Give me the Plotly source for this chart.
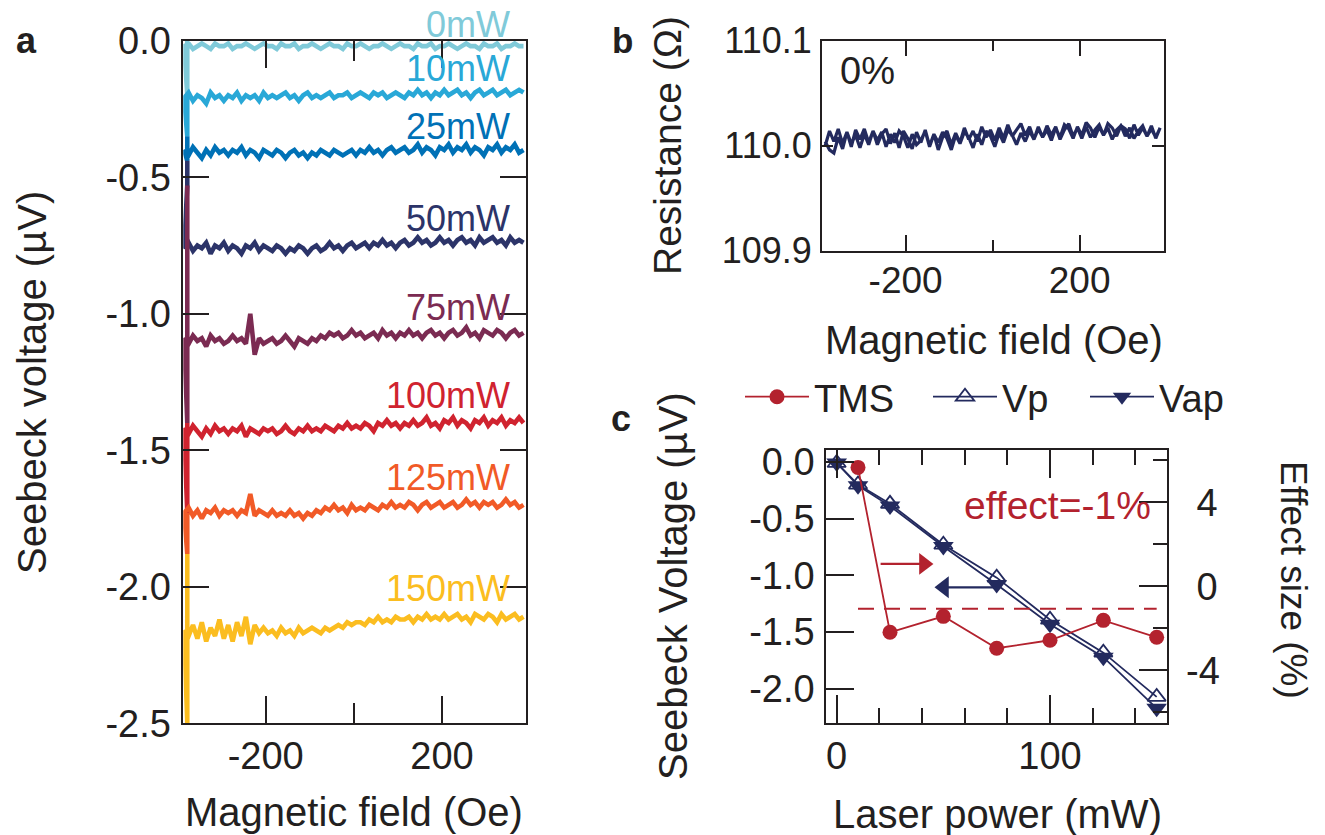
import plotly.graph_objects as go

W, H = 1325, 835

# ---------------- data: panel a ----------------
FIELD = [-385, -375, -365, -355, -345, -335, -325, -315, -305, -295,
         -285, -275, -265, -255, -245, -235, -225, -215, -205, -195,
         -185, -175, -165, -155, -145, -135, -125, -115, -105, -95,
         -85, -75, -65, -55, -45, -35, -25, -15, -5, 5,
         15, 25, 35, 45, 55, 65, 75, 85, 95, 105,
         115, 125, 135, 145, 155, 165, 175, 185, 195, 205,
         215, 225, 235, 245, 255, 265, 275, 285, 295, 305,
         315, 325, 335, 345, 355, 365, 375, 385]

POWER_LABELS = ["0mW", "10mW", "25mW", "50mW", "75mW", "100mW", "125mW", "150mW"]
POWER_COLORS = ["#80cad9", "#29a8d7", "#0071b6", "#2c3469", "#7b2b52", "#d0232f", "#f15a27", "#fbbd20"]

V_0MW = [-0.02, -0.01, -0.03, -0.02, -0.01, -0.02, -0.03, -0.01, -0.02, -0.02,
         -0.01, -0.03, -0.02, -0.02, -0.01, -0.02, -0.03, -0.02, -0.01, -0.02,
         -0.02, -0.03, -0.01, -0.02, -0.02, -0.01, -0.03, -0.02, -0.02, -0.01,
         -0.02, -0.03, -0.02, -0.01, -0.02, -0.02, -0.03, -0.01, -0.02, -0.02,
         -0.01, -0.02, -0.03, -0.02, -0.02, -0.01, -0.02, -0.03, -0.02, -0.01,
         -0.02, -0.02, -0.03, -0.01, -0.02, -0.02, -0.01, -0.03, -0.02, -0.02,
         -0.01, -0.02, -0.03, -0.02, -0.01, -0.02, -0.02, -0.03, -0.01, -0.02,
         -0.02, -0.01, -0.03, -0.02, -0.02, -0.01, -0.02, -0.02]
V_10MW = [-0.21, -0.19, -0.22, -0.20, -0.21, -0.23, -0.19, -0.21, -0.20, -0.22,
          -0.20, -0.21, -0.19, -0.22, -0.20, -0.21, -0.20, -0.22, -0.19, -0.21,
          -0.20, -0.21, -0.20, -0.19, -0.21, -0.20, -0.22, -0.20, -0.19, -0.21,
          -0.20, -0.21, -0.20, -0.19, -0.21, -0.20, -0.20, -0.19, -0.21, -0.20,
          -0.19, -0.20, -0.21, -0.19, -0.20, -0.19, -0.21, -0.20, -0.19, -0.20,
          -0.21, -0.19, -0.20, -0.18, -0.20, -0.19, -0.21, -0.19, -0.20, -0.18,
          -0.20, -0.19, -0.18, -0.20, -0.19, -0.21, -0.19, -0.18, -0.20, -0.19,
          -0.18, -0.20, -0.19, -0.18, -0.20, -0.19, -0.18, -0.19]
V_25MW = [-0.40, -0.42, -0.39, -0.41, -0.43, -0.40, -0.42, -0.39, -0.41, -0.40,
          -0.42, -0.40, -0.41, -0.39, -0.42, -0.40, -0.41, -0.43, -0.40, -0.41,
          -0.42, -0.40, -0.41, -0.43, -0.41, -0.40, -0.42, -0.41, -0.43, -0.41,
          -0.42, -0.40, -0.41, -0.42, -0.40, -0.41, -0.42, -0.41, -0.40, -0.42,
          -0.40, -0.41, -0.39, -0.41, -0.40, -0.42, -0.40, -0.39, -0.41, -0.40,
          -0.39, -0.41, -0.40, -0.38, -0.41, -0.39, -0.40, -0.42, -0.39, -0.40,
          -0.38, -0.41, -0.39, -0.40, -0.38, -0.41, -0.39, -0.40, -0.42, -0.39,
          -0.40, -0.38, -0.41, -0.39, -0.40, -0.38, -0.41, -0.40]
V_50MW = [-0.76, -0.74, -0.77, -0.75, -0.76, -0.74, -0.78, -0.75, -0.76, -0.74,
          -0.77, -0.75, -0.76, -0.78, -0.75, -0.76, -0.74, -0.77, -0.75, -0.76,
          -0.77, -0.75, -0.76, -0.78, -0.76, -0.77, -0.75, -0.76, -0.78, -0.76,
          -0.75, -0.77, -0.76, -0.74, -0.76, -0.75, -0.77, -0.75, -0.74, -0.76,
          -0.75, -0.74, -0.76, -0.74, -0.75, -0.73, -0.75, -0.74, -0.76, -0.74,
          -0.73, -0.75, -0.74, -0.72, -0.74, -0.73, -0.75, -0.74, -0.72, -0.74,
          -0.73, -0.75, -0.73, -0.72, -0.74, -0.73, -0.75, -0.72, -0.74, -0.73,
          -0.72, -0.74, -0.73, -0.75, -0.72, -0.74, -0.73, -0.74]
V_75MW = [-1.09, -1.11, -1.08, -1.10, -1.09, -1.12, -1.08, -1.10, -1.09, -1.11,
          -1.10, -1.08, -1.10, -1.09, -1.11, -1.00, -1.15, -1.09, -1.11, -1.10,
          -1.09, -1.11, -1.10, -1.08, -1.10, -1.12, -1.09, -1.10, -1.11, -1.09,
          -1.10, -1.08, -1.09, -1.07, -1.08, -1.07, -1.09, -1.08, -1.06, -1.08,
          -1.07, -1.09, -1.08, -1.07, -1.09, -1.06, -1.08, -1.07, -1.09, -1.07,
          -1.08, -1.06, -1.08, -1.07, -1.09, -1.07, -1.06, -1.08, -1.07, -1.09,
          -1.07, -1.06, -1.08, -1.07, -1.05, -1.08, -1.07, -1.09, -1.06, -1.07,
          -1.08, -1.06, -1.07, -1.09, -1.07, -1.06, -1.08, -1.07]
V_100MW = [-1.42, -1.44, -1.41, -1.43, -1.45, -1.42, -1.44, -1.41, -1.43, -1.42,
           -1.44, -1.42, -1.43, -1.41, -1.45, -1.42, -1.43, -1.44, -1.42, -1.43,
           -1.42, -1.44, -1.43, -1.41, -1.43, -1.44, -1.42, -1.43, -1.41, -1.43,
           -1.42, -1.43, -1.41, -1.42, -1.43, -1.41, -1.42, -1.40, -1.42, -1.41,
           -1.42, -1.40, -1.41, -1.43, -1.40, -1.41, -1.39, -1.41, -1.40, -1.42,
           -1.40, -1.41, -1.39, -1.41, -1.40, -1.38, -1.41, -1.40, -1.42, -1.39,
           -1.40, -1.38, -1.41, -1.39, -1.40, -1.42, -1.39, -1.40, -1.38, -1.41,
           -1.39, -1.40, -1.38, -1.41, -1.39, -1.40, -1.38, -1.40]
V_125MW = [-1.73, -1.71, -1.74, -1.72, -1.75, -1.72, -1.73, -1.71, -1.74, -1.72,
           -1.73, -1.72, -1.74, -1.72, -1.73, -1.66, -1.74, -1.72, -1.73, -1.74,
           -1.72, -1.74, -1.73, -1.74, -1.72, -1.74, -1.73, -1.75, -1.73, -1.74,
           -1.72, -1.73, -1.71, -1.72, -1.70, -1.72, -1.71, -1.73, -1.70, -1.72,
           -1.71, -1.72, -1.70, -1.71, -1.72, -1.70, -1.71, -1.69, -1.71, -1.70,
           -1.71, -1.69, -1.70, -1.72, -1.70, -1.69, -1.71, -1.70, -1.69, -1.71,
           -1.70, -1.69, -1.71, -1.70, -1.68, -1.70, -1.69, -1.71, -1.69, -1.70,
           -1.69, -1.71, -1.70, -1.68, -1.70, -1.69, -1.71, -1.70]
V_150MW = [-2.16, -2.18, -2.14, -2.19, -2.13, -2.20, -2.15, -2.18, -2.12, -2.19,
           -2.14, -2.20, -2.13, -2.18, -2.11, -2.21, -2.14, -2.17, -2.15, -2.17,
           -2.16, -2.18, -2.15, -2.17, -2.16, -2.18, -2.15, -2.17, -2.16, -2.15,
           -2.16, -2.17, -2.15, -2.16, -2.15, -2.14, -2.15, -2.13, -2.14, -2.13,
           -2.13, -2.14, -2.12, -2.13, -2.11, -2.13, -2.12, -2.13, -2.11, -2.12,
           -2.12, -2.11, -2.13, -2.11, -2.12, -2.10, -2.12, -2.11, -2.12, -2.10,
           -2.12, -2.11, -2.10, -2.12, -2.11, -2.13, -2.10, -2.11, -2.12, -2.10,
           -2.11, -2.13, -2.10, -2.12, -2.11, -2.10, -2.12, -2.11]
SEEBECK_CURVES = [V_0MW, V_10MW, V_25MW, V_50MW, V_75MW, V_100MW, V_125MW, V_150MW]

# initial jump of each sweep near the left edge of the field range
EDGE_FIELD = -378
EDGE_TOP = [0.0, -0.20, -0.35, -0.44, -0.53, -1.40, -1.73, -1.88]
EDGE_BOTTOM = [-0.20, -0.35, -0.44, -0.53, -1.40, -1.73, -1.88, -2.50]

LABEL_FIELD = 358
LABEL_Y = [0.06, -0.10, -0.315, -0.65, -0.977, -1.30, -1.598, -2.005]

A_XRANGE = [-387, 390]
A_YRANGE = [-2.5, 0.0]
A_YTICKS = [0.0, -0.5, -1.0, -1.5, -2.0, -2.5]
A_YTICKTEXT = ["0.0", "-0.5", "-1.0", "-1.5", "-2.0", "-2.5"]
FIELD_TICKS = [-200, 200]
FIELD_TICKTEXT = ["-200", "200"]
FIELD_MINOR = [0]

# ---------------- data: panel b ----------------
B_XRANGE = [-393, 394]
R_FORWARD = [110.000, 110.014, 110.004, 110.016, 110.002, 110.013, 109.999, 110.015, 110.006, 110.016,
             110.003, 110.014, 110.001, 110.011, 110.016, 110.002, 110.012, 109.998, 110.014, 110.007,
             109.997, 110.013, 110.003, 110.015, 110.000, 110.011, 109.996, 110.008, 110.014, 110.001,
             110.012, 110.003, 110.017, 110.006, 110.014, 110.004, 110.018, 110.008, 110.015, 110.005,
             110.017, 110.007, 110.020, 110.009, 110.015, 110.021, 110.010, 110.018, 110.006, 110.016,
             110.008, 110.019, 110.010, 110.018, 110.006, 110.015, 110.021, 110.009, 110.017, 110.007,
             110.018, 110.008, 110.015, 110.020, 110.010, 110.017, 110.006, 110.015, 110.019, 110.009,
             110.017, 110.007, 110.014, 110.019, 110.009, 110.016, 110.008, 110.017]
R_BACKWARD = [110.016, 110.007, 110.019, 110.009, 110.017, 110.010, 110.020, 110.007, 110.016, 110.019,
              110.009, 110.017, 110.021, 110.010, 110.018, 110.008, 110.017, 110.022, 110.010, 110.018,
              110.007, 110.016, 110.020, 110.008, 110.017, 110.005, 110.015, 110.008, 110.018, 110.006,
              110.014, 110.004, 110.012, 110.001, 110.010, 110.015, 110.003, 110.012, 109.999, 110.009,
              110.014, 110.001, 110.011, 109.998, 110.008, 110.013, 110.002, 110.010, 109.996, 110.007,
              110.013, 110.003, 110.011, 109.999, 110.014, 110.005, 110.001, 110.011, 109.998, 110.009,
              110.014, 110.003, 110.011, 109.999, 110.013, 110.005, 110.014, 110.001, 110.011, 109.998,
              110.010, 110.002, 110.013, 109.997, 110.008, 109.993, 109.996, 110.004]
B_YTICKS = [109.9, 110.0, 110.1]
B_YTICKTEXT = ["109.9", "110.0", "110.1"]

# ---------------- data: panel c ----------------
LASER_POWER = [0, 10, 25, 50, 75, 100, 125, 150]
VP = [-0.01, -0.20, -0.37, -0.73, -1.02, -1.39, -1.68, -2.07]
VAP = [-0.01, -0.21, -0.39, -0.745, -1.08, -1.43, -1.72, -2.17]
TMS_POWER = [10, 25, 50, 75, 100, 125, 150]
TMS = [5.67, -2.19, -1.43, -2.95, -2.57, -1.62, -2.43]
EFFECT_POWER = [10, 150]
EFFECT_LEVEL = [-1.07, -1.07]
C_YTICKS = [0.0, -0.5, -1.0, -1.5, -2.0]
C_YTICKTEXT = ["0.0", "-0.5", "-1.0", "-1.5", "-2.0"]
C_Y2TICKS = [4, 0, -4]
C_Y2TICKTEXT = ["\u00a04", "\u00a00", "-4"]
C_Y2MINOR = [6, 2, -2, -6]
C_XTICKS = [0, 100]
C_XTICKTEXT = ["0", "100"]
C_XMINOR = [20, 40, 60, 80, 120, 140]

# axis-pointer arrows in panel c (tail power, head power; value on the axis they point to)
TMS_ARROW_X = [20.6, 40.9]
TMS_ARROW_Y = [1.07, 1.07]
V_ARROW_X = [75, 50.3]
V_ARROW_Y = [-1.105, -1.105]

# ---------------- styles ----------------
INK = "#231f20"
NAVY = "#232a5e"
RED = "#b3222e"
FONT = "Liberation Sans, Arial, Helvetica, sans-serif"


def px(x):
    return x / W


def py(y):
    return 1 - y / H


fig = go.Figure()

# panel a traces
for i, vals in enumerate(SEEBECK_CURVES):
    fig.add_trace(go.Scatter(
        x=[EDGE_FIELD, EDGE_FIELD] + FIELD,
        y=[EDGE_TOP[i], EDGE_BOTTOM[i]] + vals,
        mode="lines", line=dict(color=POWER_COLORS[i], width=4.6),
        xaxis="x", yaxis="y", showlegend=False, hoverinfo="skip"))

# panel b trace
fig.add_trace(go.Scatter(
    x=FIELD + FIELD[::-1], y=R_FORWARD + R_BACKWARD,
    mode="lines", line=dict(color=NAVY, width=3.2),
    xaxis="x2", yaxis="y2", showlegend=False, hoverinfo="skip"))

# panel c traces
fig.add_trace(go.Scatter(
    x=EFFECT_POWER, y=EFFECT_LEVEL, mode="lines",
    line=dict(color=RED, width=2, dash="16px,10px"),
    xaxis="x3", yaxis="y4", showlegend=False, hoverinfo="skip"))
fig.add_trace(go.Scatter(
    x=TMS_POWER, y=TMS, name="TMS", mode="lines+markers",
    line=dict(color=RED, width=1.8),
    marker=dict(symbol="circle", size=15, color=RED),
    xaxis="x3", yaxis="y4", legendwidth=109))
fig.add_trace(go.Scatter(
    x=TMS_ARROW_X, y=TMS_ARROW_Y, mode="lines",
    line=dict(color=RED, width=2.2),
    xaxis="x3", yaxis="y4", showlegend=False, hoverinfo="skip"))
fig.add_trace(go.Scatter(
    x=TMS_ARROW_X[1:], y=TMS_ARROW_Y[1:], mode="markers",
    marker=dict(symbol="triangle-right", size=19, color=RED),
    xaxis="x3", yaxis="y4", showlegend=False, hoverinfo="skip"))
fig.add_trace(go.Scatter(
    x=LASER_POWER, y=VP, name="Vp", mode="lines+markers",
    line=dict(color=NAVY, width=1.8),
    marker=dict(symbol="triangle-up-open", size=16, color=NAVY, line=dict(width=1.8)),
    xaxis="x3", yaxis="y3", legendwidth=78))
fig.add_trace(go.Scatter(
    x=LASER_POWER, y=VAP, name="Vap", mode="lines+markers",
    line=dict(color=NAVY, width=1.8),
    marker=dict(symbol="triangle-down", size=18, color=NAVY),
    xaxis="x3", yaxis="y3", legendwidth=70))
fig.add_trace(go.Scatter(
    x=V_ARROW_X, y=V_ARROW_Y, mode="lines",
    line=dict(color=NAVY, width=2.2),
    xaxis="x3", yaxis="y3", showlegend=False, hoverinfo="skip"))
fig.add_trace(go.Scatter(
    x=V_ARROW_X[1:], y=V_ARROW_Y[1:], mode="markers",
    marker=dict(symbol="triangle-left", size=19, color=NAVY),
    xaxis="x3", yaxis="y3", showlegend=False, hoverinfo="skip"))

axis_common = dict(showline=True, linecolor=INK, linewidth=1.5, ticks="inside",
                   tickcolor=INK, tickwidth=1.5, showgrid=False, zeroline=False,
                   tickmode="array", automargin=False)

annotations = []


def ann(text, x, y, size, color=INK, angle=0, **kw):
    d = dict(text=text, x=x, y=y, xref="paper", yref="paper", showarrow=False,
             font=dict(family=FONT, size=size, color=color), textangle=angle,
             xanchor="center", yanchor="middle")
    d.update(kw)
    annotations.append(d)


# panel letters
ann("<b>a</b>", px(26), py(40), 36)
ann("<b>b</b>", px(622), py(40), 35)
ann("<b>c</b>", px(621), py(418), 36)

# axis titles and texts
ann("Seebeck voltage (µV)", px(32), py(383), 40, angle=-90)
ann("Magnetic field (Oe)", px(354), py(812), 40)
ann("Resistance (Ω)", px(668), py(146), 39, angle=-90)
ann("Magnetic field (Oe)", px(994), py(340), 40)
ann("0%", px(867), py(71), 38)
ann("Seebeck Voltage (µV)", px(673), py(586), 40, angle=-90)
ann("Effect size (%)", px(1294), py(580), 37, angle=90)
ann("Laser power (mW)", px(997), py(814), 40)
ann("effect=-1%", px(1057), py(505), 39, color=RED)

# power labels in panel a (relative to the y axis domain so the top one can sit above the frame)
for i, lab in enumerate(POWER_LABELS):
    frac = (LABEL_Y[i] - A_YRANGE[0]) / (A_YRANGE[1] - A_YRANGE[0])
    annotations.append(dict(text=lab, x=LABEL_FIELD, y=frac, xref="x", yref="y domain",
                            showarrow=False, xanchor="right", yanchor="middle",
                            font=dict(family=FONT, size=36, color=POWER_COLORS[i])))

fig.update_layout(
    width=W, height=H, margin=dict(l=0, r=0, t=0, b=0, autoexpand=False),
    paper_bgcolor="white", plot_bgcolor="rgba(0,0,0,0)",
    font=dict(family=FONT, color=INK),
    annotations=annotations,
    showlegend=True,
    legend=dict(orientation="h", x=px(740), y=py(397), xanchor="left", yanchor="middle",
                font=dict(family=FONT, size=38, color=INK),
                bgcolor="rgba(0,0,0,0)", itemclick=False, tracegroupgap=0, itemwidth=64),
    # panel a
    xaxis=dict(axis_common, domain=[px(183.3), px(525.7)], range=A_XRANGE, anchor="y",
               mirror="ticks", tickvals=FIELD_TICKS, ticktext=FIELD_TICKTEXT, ticklen=28,
               minor=dict(tickmode="array", tickvals=FIELD_MINOR, ticks="inside", ticklen=21,
                          tickcolor=INK, tickwidth=1.5),
               tickfont=dict(family=FONT, size=38, color=INK), ticklabelstandoff=-2),
    yaxis=dict(axis_common, domain=[py(723.3), py(40.7)], range=A_YRANGE, anchor="x",
               mirror="ticks", tickvals=A_YTICKS, ticktext=A_YTICKTEXT, ticklen=26,
               tickfont=dict(family=FONT, size=38, color=INK), ticklabelstandoff=3),
    # panel b
    xaxis2=dict(axis_common, domain=[px(821.7), px(1164)], range=B_XRANGE, anchor="y2",
                mirror="ticks", tickvals=FIELD_TICKS, ticktext=FIELD_TICKTEXT, ticklen=16,
                minor=dict(tickmode="array", tickvals=FIELD_MINOR, ticks="inside", ticklen=11,
                           tickcolor=INK, tickwidth=1.5),
                tickfont=dict(family=FONT, size=37, color=INK), ticklabelstandoff=-4),
    yaxis2=dict(axis_common, domain=[py(250.7), py(40.7)], range=[109.9, 110.1], anchor="x2",
                mirror="ticks", tickvals=B_YTICKS, ticktext=B_YTICKTEXT, ticklen=12,
                tickfont=dict(family=FONT, size=36, color=INK), ticklabelstandoff=1),
    # panel c
    xaxis3=dict(axis_common, domain=[px(826), px(1166.7)], range=[-5, 154.7], anchor="y3",
                mirror="ticks", tickvals=C_XTICKS, ticktext=C_XTICKTEXT, ticklen=28,
                minor=dict(tickmode="array", tickvals=C_XMINOR, ticks="inside", ticklen=15,
                           tickcolor=INK, tickwidth=1.5),
                tickfont=dict(family=FONT, size=38, color=INK), ticklabelstandoff=-1),
    yaxis3=dict(axis_common, domain=[py(722.7), py(450)], range=[-2.297, 0.104], anchor="x3",
                tickvals=C_YTICKS, ticktext=C_YTICKTEXT, ticklen=28,
                tickfont=dict(family=FONT, size=38, color=INK), ticklabelstandoff=2),
    yaxis4=dict(axis_common, overlaying="y3", side="right", range=[-6.5, 6.5], anchor="x3",
                tickvals=C_Y2TICKS, ticktext=C_Y2TICKTEXT, ticklen=28,
                minor=dict(tickmode="array", tickvals=C_Y2MINOR, ticks="inside", ticklen=14,
                           tickcolor=INK, tickwidth=1.5),
                tickfont=dict(family=FONT, size=38, color=INK), ticklabelstandoff=10),
)

fig.write_html("out.html")
